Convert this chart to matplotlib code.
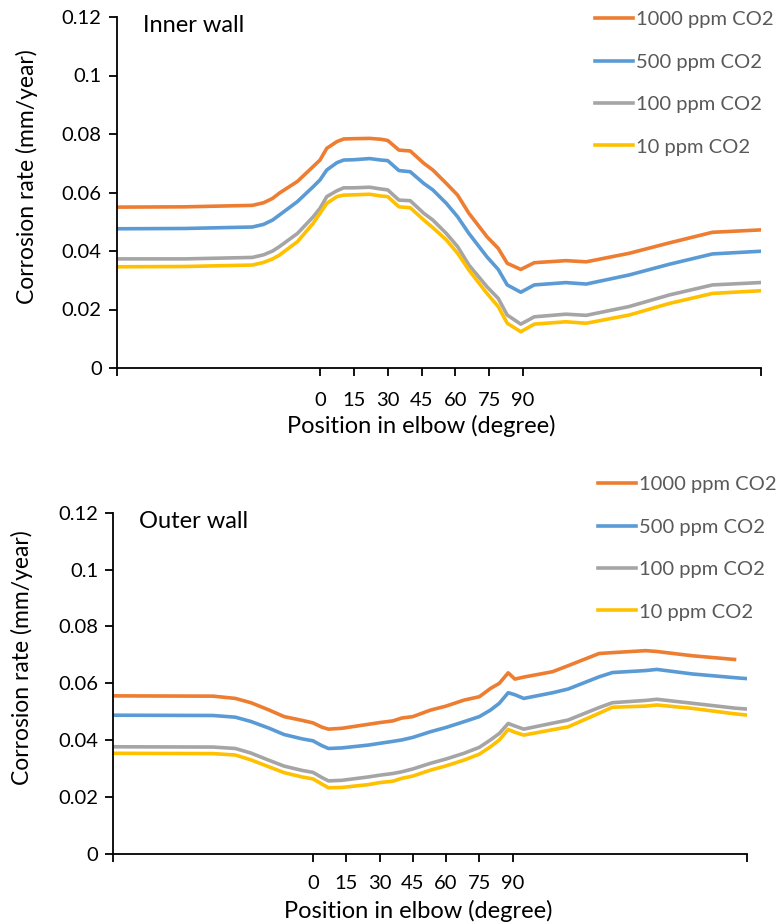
import matplotlib
matplotlib.use("Agg")
import matplotlib.pyplot as plt
import numpy as np

plt.rcParams['font.family'] = ['Lato', 'DejaVu Sans']

series_labels = ["1000 ppm CO2", "500 ppm CO2", "100 ppm CO2", "10 ppm CO2"]
colors = ["#ED7D31", "#5B9BD5", "#A5A5A5", "#FFC000"]
tick_positions = [0, 15, 30, 45, 60, 75, 90]
tick_labels = ["0", "15", "30", "45", "60", "75", "90"]

# ---------------- Inner wall ----------------
inner_x = [-90, -60, -30, -25, -21, -18, -10, -3, 0, 3, 7.5, 10.5, 15, 22, 27, 30, 35, 40, 46, 50,
           56, 61, 66, 74, 79, 83, 89, 95, 109, 118, 137, 155, 174, 195]
inner_1000 = [0.0550, 0.0551, 0.0556, 0.0565, 0.0580, 0.0598, 0.0638, 0.0689, 0.0711, 0.0751, 0.0774,
              0.0783, 0.0784, 0.0785, 0.0782, 0.0778, 0.0745, 0.0742, 0.0700, 0.0677, 0.0631,
              0.0591, 0.0529, 0.0449, 0.0409, 0.0358, 0.0337, 0.0360, 0.0367, 0.0363, 0.0392,
              0.0428, 0.0464, 0.0472]
inner_500 = [0.0476, 0.0477, 0.0482, 0.0491, 0.0506, 0.0523, 0.0569, 0.0620, 0.0643, 0.0677, 0.0702,
             0.0711, 0.0712, 0.0716, 0.0711, 0.0709, 0.0675, 0.0671, 0.0631, 0.0609, 0.0563,
             0.0517, 0.0460, 0.0380, 0.0337, 0.0284, 0.0259, 0.0284, 0.0292, 0.0287, 0.0318,
             0.0355, 0.0390, 0.0399]
inner_100 = [0.0373, 0.0373, 0.0378, 0.0387, 0.0400, 0.0415, 0.0460, 0.0517, 0.0546, 0.0586, 0.0606,
             0.0616, 0.0616, 0.0618, 0.0612, 0.0609, 0.0574, 0.0572, 0.0529, 0.0506, 0.0460,
             0.0415, 0.0352, 0.0278, 0.0238, 0.0181, 0.0150, 0.0175, 0.0184, 0.0180, 0.0210,
             0.0250, 0.0284, 0.0292]
inner_10 = [0.0346, 0.0347, 0.0352, 0.0361, 0.0373, 0.0386, 0.0432, 0.0495, 0.0529, 0.0563, 0.0586,
            0.0591, 0.0592, 0.0594, 0.0588, 0.0586, 0.0551, 0.0548, 0.0506, 0.0480, 0.0438,
            0.0392, 0.0335, 0.0255, 0.0210, 0.0153, 0.0124, 0.0150, 0.0158, 0.0153, 0.0181,
            0.0221, 0.0255, 0.0264]

# ---------------- Outer wall ----------------
outer_x = [-90, -45, -35, -28, -20, -13, -5, 0, 4, 7, 13, 25, 30, 36, 40, 45, 53, 60, 68, 75,
           80, 84, 88, 91, 95, 108, 115, 129, 135, 150, 155, 171, 190, 195]
outer_1000 = [0.0556, 0.0555, 0.0547, 0.0532, 0.0507, 0.0483, 0.0470, 0.0461, 0.0446, 0.0439,
              0.0442, 0.0456, 0.0462, 0.0468, 0.0478, 0.0483, 0.0506, 0.0520, 0.0541, 0.0553,
              0.0582, 0.0600, 0.0637, 0.0615, 0.0622, 0.0641, 0.0662, 0.0705, 0.0708, 0.0715,
              0.0712, 0.0697, 0.0684, np.nan]
outer_500 = [0.0488, 0.0487, 0.0481, 0.0466, 0.0443, 0.0420, 0.0405, 0.0398, 0.0381, 0.0371,
             0.0373, 0.0383, 0.0389, 0.0396, 0.0401, 0.0410, 0.0430, 0.0445, 0.0465, 0.0483,
             0.0506, 0.0530, 0.0567, 0.0560, 0.0547, 0.0567, 0.0580, 0.0623, 0.0638, 0.0645,
             0.0649, 0.0633, 0.0620, 0.0617]
outer_100 = [0.0377, 0.0376, 0.0371, 0.0355, 0.0330, 0.0309, 0.0294, 0.0287, 0.0269, 0.0257,
             0.0259, 0.0271, 0.0277, 0.0283, 0.0289, 0.0299, 0.0319, 0.0334, 0.0354, 0.0375,
             0.0401, 0.0424, 0.0459, 0.0450, 0.0439, 0.0460, 0.0471, 0.0515, 0.0532, 0.0540,
             0.0544, 0.0530, 0.0513, 0.0510]
outer_10 = [0.0354, 0.0353, 0.0348, 0.0331, 0.0307, 0.0286, 0.0271, 0.0264, 0.0246, 0.0233,
            0.0234, 0.0244, 0.0251, 0.0256, 0.0266, 0.0274, 0.0295, 0.0310, 0.0330, 0.0351,
            0.0377, 0.0401, 0.0438, 0.0428, 0.0418, 0.0437, 0.0447, 0.0495, 0.0516, 0.0520,
            0.0524, 0.0512, 0.0493, 0.0489]

W, H = 778, 924
fig = plt.figure(figsize=(W / 100, H / 100), dpi=100)


def make_axes(l, r, t, b):
    return fig.add_axes([l / W, 1 - b / H, (r - l) / W, (b - t) / H])


def style(ax, title, ylab_coords, xlab_coords, xpad):
    ax.set_xlim(-90, 195.5)
    ax.set_ylim(0, 0.12)
    ax.set_yticks([0, 0.02, 0.04, 0.06, 0.08, 0.1, 0.12])
    ax.set_yticklabels(["0", "0.02", "0.04", "0.06", "0.08", "0.1", "0.12"])
    ax.set_xticks([-90] + tick_positions + [195.5])
    ax.set_xticklabels([""] + tick_labels + [""])
    for s in ["top", "right"]:
        ax.spines[s].set_visible(False)
    for s in ["left", "bottom"]:
        ax.spines[s].set_linewidth(1.3)
        ax.spines[s].set_color("black")
    ax.tick_params(axis="both", direction="out", length=6, width=1.3, labelsize=14.5,
                   colors="black", pad=5)
    ax.tick_params(axis="x", pad=xpad)
    ax.set_ylabel("Corrosion rate (mm/year)", fontsize=16.5)
    ax.yaxis.set_label_coords(*ylab_coords)
    ax.set_xlabel("Position in elbow (degree)", fontsize=17)
    ax.xaxis.set_label_coords(*xlab_coords)
    ax.text(0.04, 0.975, title, transform=ax.transAxes, fontsize=17, va="center", ha="left")


def add_legend(ax, x_px, y_px):
    ax.legend(loc="upper left", bbox_to_anchor=(x_px / W, 1 - y_px / H),
              bbox_transform=fig.transFigure, frameon=False, fontsize=14.5,
              handlelength=1.9, handletextpad=0.15, labelspacing=1.26,
              borderpad=0, borderaxespad=0, labelcolor="#595959")


ax1 = make_axes(117, 761, 17, 368)
for ys, c, lab in zip([inner_1000, inner_500, inner_100, inner_10], colors, series_labels):
    ax1.plot(inner_x, ys, color=c, lw=2.6, label=lab, solid_joinstyle="round")
style(ax1, "Inner wall", (-0.123, 0.546), (0.473, -0.133), 11)
add_legend(ax1, 595, 11)

ax2 = make_axes(113.3, 746.7, 512.7, 854)
for ys, c, lab in zip([outer_1000, outer_500, outer_100, outer_10], colors, series_labels):
    ax2.plot(outer_x, ys, color=c, lw=2.6, label=lab, solid_joinstyle="round")
style(ax2, "Outer wall", (-0.127, 0.574), (0.481, -0.135), 9)
add_legend(ax2, 598, 476)

fig.savefig("out.png", dpi=100)
